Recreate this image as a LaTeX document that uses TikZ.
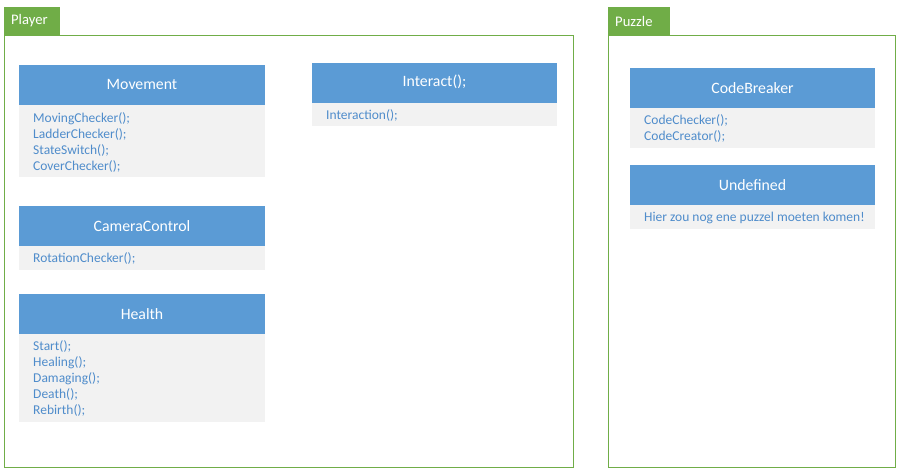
\documentclass[tikz,border=0pt]{standalone}
\usepackage{fontspec}
\setmainfont{Carlito}
\definecolor{hdrblue}{HTML}{5B9BD5}
\definecolor{bodygray}{HTML}{F2F2F2}
\definecolor{txtblue}{HTML}{4F8CCB}
\definecolor{frgreen}{HTML}{70AD47}
\begin{document}
\begin{tikzpicture}[x=1pt,y=-1pt,
  frame/.style={draw=frgreen,line width=1pt},
  tab/.style={fill=frgreen,draw=none},
  tablabel/.style={anchor=west,text=white,font=\fontsize{14.6}{16}\selectfont,inner sep=0pt},
  hdr/.style={fill=hdrblue,draw=none},
  bdy/.style={fill=bodygray,draw=none},
  hdrlabel/.style={text=white,font=\fontsize{15.8}{18}\selectfont,inner sep=0pt},
  methods/.style={anchor=north west,text=txtblue,align=left,inner sep=0pt,
    font=\fontsize{13.5}{16}\selectfont},
]
\useasboundingbox (0,0) rectangle (899,471);
\fill[white] (0,0) rectangle (899,471);

% Player package
\fill[tab] (4,7) rectangle (60,35);
\node[tablabel] (playertab) at (11,21) {Player};
\draw[frame] (4,35) rectangle (573,467);

% Puzzle package
\fill[tab] (608,7) rectangle (670,35);
\node[tablabel] (puzzletab) at (615,21) {Puzzle};
\draw[frame] (608,35) rectangle (895,467);

% Movement
\fill[hdr] (19,65) rectangle (265,105);
\fill[bdy] (19,105) rectangle (265,177);
\node[hdrlabel] (movement) at (142,84) {Movement};
\node[methods] (movementm) at (33,112) {MovingChecker();\\LadderChecker();\\StateSwitch();\\CoverChecker();};

% CameraControl
\fill[hdr] (19,206) rectangle (265,246);
\fill[bdy] (19,246) rectangle (265,270);
\node[hdrlabel] (camera) at (142,226) {CameraControl};
\node[methods] (cameram) at (33,252.5) {RotationChecker();};

% Health
\fill[hdr] (19,294) rectangle (265,334);
\fill[bdy] (19,334) rectangle (265,422);
\node[hdrlabel] (health) at (142,314) {Health};
\node[methods] (healthm) at (33,340.5) {Start();\\Healing();\\Damaging();\\Death();\\Rebirth();};

% Interact
\fill[hdr] (312,63) rectangle (557,103);
\fill[bdy] (312,103) rectangle (557,126);
\node[hdrlabel] (interact) at (434.5,82) {Interact();};
\node[methods] (interactm) at (326,109.5) {Interaction();};

% CodeBreaker
\fill[hdr] (630,68) rectangle (875,108);
\fill[bdy] (630,108) rectangle (875,148);
\node[hdrlabel] (codebreaker) at (752.5,88) {CodeBreaker};
\node[methods] (codebreakerm) at (644,114.5) {CodeChecker();\\CodeCreator();};

% Undefined
\fill[hdr] (630,165) rectangle (875,205);
\fill[bdy] (630,205) rectangle (875,229);
\node[hdrlabel] (undefined) at (752.5,185) {Undefined};
\node[methods] (undefinedm) at (644,211.5) {Hier zou nog ene puzzel moeten komen!};
\end{tikzpicture}
\end{document}
